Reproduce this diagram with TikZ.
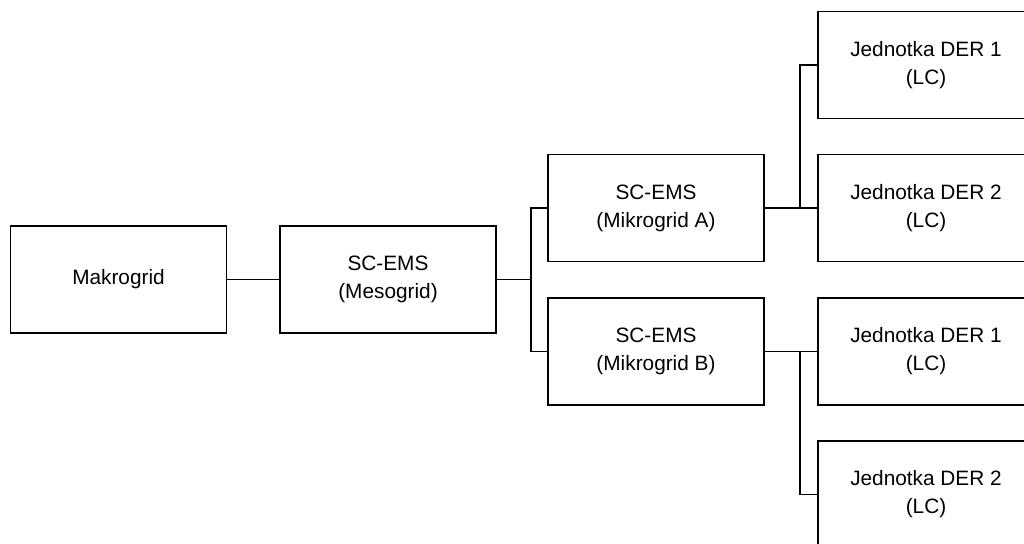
\documentclass[tikz,border=0pt]{standalone}
\usepackage{fontspec}
\setmainfont{Liberation Sans}
\begin{document}
\begin{tikzpicture}[x=0.75pt,y=-0.75pt,
  box/.style={draw=black,line width=1.1pt,fill=white,minimum width=216*0.75pt,
    minimum height=107*0.75pt,inner sep=0pt,align=center,
    font=\fontsize{15.6pt}{21pt}\selectfont},
  link/.style={draw=black,line width=1.1pt}]
\useasboundingbox (0,0) rectangle (1024,543);
\clip (0,0) rectangle (1024,543);
% boxes
\node[box] (mak)  at (118.5,279.5) {Makrogrid};
\node[box] (meso) at (388,279.5) {SC-EMS\\(Mesogrid)};
\node[box] (mA)   at (656,208) {SC-EMS\\(Mikrogrid A)};
\node[box] (mB)   at (656,351.5) {SC-EMS\\(Mikrogrid B)};
\node[box] (d1)   at (926,65) {Jednotka DER 1\\(LC)};
\node[box] (d2)   at (926,208) {Jednotka DER 2\\(LC)};
\node[box] (d3)   at (926,351.5) {Jednotka DER 1\\(LC)};
\node[box] (d4)   at (926,494.5) {Jednotka DER 2\\(LC)};
% junction points of the bus lines
\coordinate (jM) at (531,279.5);
\coordinate (jA) at (800,208);
\coordinate (jB) at (800,351.5);
% connectors
\draw[link] (mak.east) -- (meso.west);
\draw[link] (meso.east) -- (jM) |- (mA.west);
\draw[link] (jM) |- (mB.west);
\draw[link] (mA.east) -- (jA) |- (d1.west);
\draw[link] (jA) -- (d2.west);
\draw[link] (mB.east) -- (jB) -- (d3.west);
\draw[link] (jB) |- (d4.west);
\end{tikzpicture}
\end{document}
